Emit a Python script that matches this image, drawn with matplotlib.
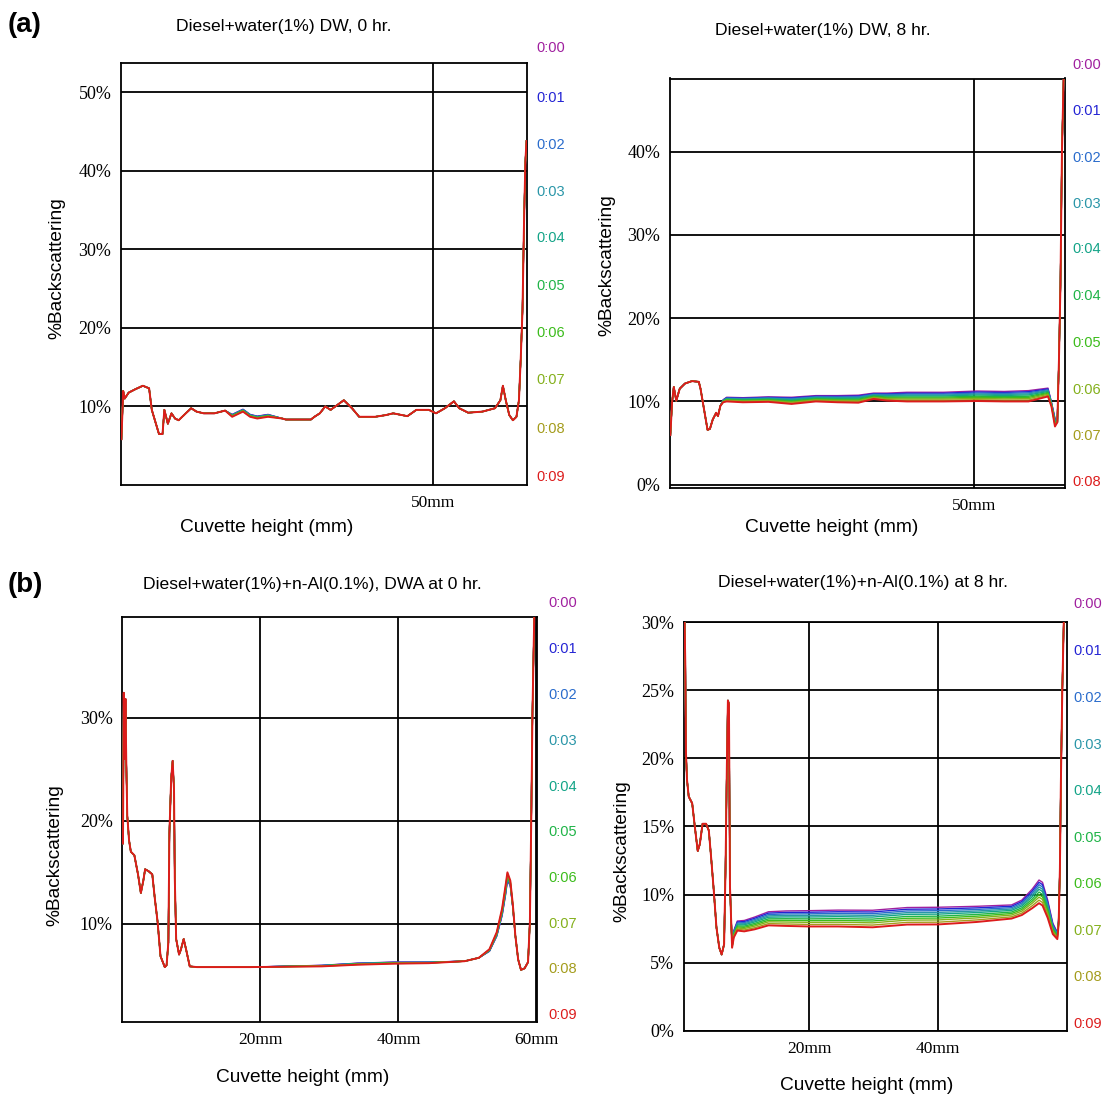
import numpy as np
import matplotlib
matplotlib.use("Agg")
import matplotlib.pyplot as plt
from matplotlib import font_manager

# ---- data (mm, %BS of the last scan) ----
# spread = how far the first scan (0:00) sits above the last one at each point
a0_x = [0.07, 0.35, 0.6, 1.22, 2.3, 3.5, 4.5, 4.93, 6.08, 6.65, 6.94, 7.5, 8.08, 8.65,
        9.23, 10.37, 11.23, 12.09, 13.24, 14.95, 16.67, 17.8, 19.53, 20.67, 21.82, 23.54,
        25.82, 26.4, 30.4, 30.97, 31.83, 32.7, 33.56, 34.7, 35.67, 36.98, 38.13, 40.7,
        42.42, 43.57, 45.85, 47.29, 49.29, 50.43, 51.86, 53.3, 54.15, 55.59, 57.87, 59.88,
        60.74, 61.14, 61.6, 62.16, 62.74, 63.31, 63.71, 64.0, 64.28, 64.52, 64.74, 64.92]
a0_y = [5.83, 11.97, 11.0, 11.75, 12.19, 12.63, 12.3, 9.56, 6.49, 6.49, 9.56, 7.8, 9.12, 8.46,
        8.24, 9.12, 9.77, 9.34, 9.12, 9.12, 9.47, 8.68, 9.34, 8.68, 8.46, 8.68,
        8.46, 8.33, 8.33, 8.68, 9.12, 10.0, 9.56, 10.22, 10.79, 9.77, 8.68, 8.68,
        8.9, 9.12, 8.76, 9.56, 9.56, 9.12, 9.77, 10.65, 9.77, 9.2, 9.34, 9.77,
        10.79, 12.63, 10.79, 8.9, 8.24, 8.68, 10.79, 16.14, 22.28, 33.25, 41.14, 43.77]
a0_spread = [0.0] * 21 + [0.3, 0.3, 0.3, 0.3, 0.3] + [0.0] * 36

a8_x = [0.06, 0.34, 0.62, 1.03, 1.6, 2.46, 3.6, 4.74, 5.03, 5.6, 6.18, 6.57, 7.03, 7.6,
        7.89, 8.29, 8.75, 9.32, 12.0, 16.2, 20.0, 24.0, 27.6, 31.0, 33.5, 35.7, 39.0,
        45.0, 50.5, 55.0, 59.0, 62.2, 62.77, 63.35, 63.74, 64.0, 64.25, 64.5, 64.77]
a8_y = [5.96, 9.88, 11.74, 10.08, 11.53, 12.15, 12.44, 12.36, 11.5, 9.05, 6.58, 6.7, 7.82, 8.64,
        8.23, 9.47, 9.9, 10.0, 9.9, 9.95, 9.7, 10.0, 9.9, 9.85, 10.3, 10.1, 10.0,
        10.0, 10.05, 10.0, 10.0, 10.6, 9.4, 6.99, 7.5, 14.83, 23.92, 40.02, 48.7]
a8_spread = [0.0] * 16 + [0.3, 0.5, 0.55, 0.6, 0.8, 0.7, 0.8, 0.9, 0.7, 0.9, 1.1,
                          1.1, 1.2, 1.2, 1.3, 1.0, 0.5, 1.0, 0.0, 0.0, 0.0, 0.0, 0.0]

b0_x = [0.07, 0.18, 0.3, 0.43, 0.55, 0.69, 0.95, 1.21, 1.72, 2.25, 2.66, 3.02, 3.28, 3.8,
        4.32, 4.68, 5.09, 5.51, 6.13, 6.39, 6.65, 6.8, 7.06, 7.27, 7.47, 7.58, 7.78, 8.2,
        8.46, 8.87, 9.23, 9.75, 10.79, 18.55, 28.9, 34.08, 39.26, 44.43, 49.6, 51.67, 53.2,
        54.26, 55.04, 55.56, 55.81, 56.23, 56.6, 56.96, 57.37, 57.78, 58.3, 58.8, 59.07,
        59.28, 59.44, 59.7]
b0_y = [17.8, 32.4, 26.0, 31.8, 25.5, 20.5, 18.1, 17.0, 16.65, 14.8, 13.0, 14.2, 15.3, 15.1,
        14.8, 12.5, 10.2, 6.88, 5.82, 6.0, 8.2, 18.8, 24.1, 25.8, 23.0, 14.5, 8.54, 7.04,
        7.5, 8.54, 7.5, 5.89, 5.82, 5.82, 5.89, 6.05, 6.15, 6.2, 6.39, 6.72, 7.55,
        9.2, 11.5, 13.8, 15.0, 14.2, 11.85, 8.87, 6.55, 5.55, 5.7, 6.3, 10.2,
        20.8, 30.4, 39.7]
b0_spread = [0.0] * 34 + [0.1, 0.15, 0.15, 0.1, 0.0, 0.0, -0.2,
                          -0.4, -0.7, -0.9, -0.8, -0.5, -0.3, 0.0, 0.0, 0.0, 0.0, 0.0, 0.0,
                          0.0, 0.0, 0.0]

b8_x = [0.69, 0.8, 0.9, 1.06, 1.33, 1.87, 2.3, 2.73, 3.05, 3.48, 4.02, 4.45, 4.82, 5.2,
        5.63, 6.07, 6.44, 6.82, 7.04, 7.25, 7.41, 7.57, 7.73, 8.06, 8.32, 8.87, 9.94, 11.55,
        13.7, 16.4, 20.0, 24.5, 29.85, 35.2, 40.0, 46.0, 51.4, 53.0, 54.6, 55.66, 56.2,
        57.0, 57.8, 58.5, 58.7, 58.9, 59.05, 59.27, 59.5]
b8_y = [30.05, 27.0, 20.5, 18.45, 17.2, 16.7, 14.9, 13.2, 13.7, 15.2, 15.2, 14.7, 12.65, 10.4,
        7.6, 6.1, 5.6, 6.35, 11.9, 19.5, 24.25, 24.0, 10.6, 6.1, 6.85, 7.36, 7.3, 7.45,
        7.74, 7.7, 7.66, 7.66, 7.6, 7.8, 7.81, 7.99, 8.24, 8.5, 9.0, 9.37, 9.2,
        8.3, 7.1, 6.73, 7.8, 11.9, 18.2, 25.0, 30.05]
b8_spread = [0.0] * 23 + [0.2, 0.5, 0.7, 0.8, 0.9, 1.0, 1.1, 1.16, 1.2, 1.25, 1.25, 1.26,
                          1.15, 1.0, 1.1, 1.4, 1.7, 1.7, 1.3, 0.8, 0.5, 0.3, 0.0, 0.0,
                          0.0, 0.0]

# fraction of the spread for each scan, 0:00 (top) ... 0:09 (bottom)
scan_frac = [1.0, 0.9, 0.8, 0.7, 0.6, 0.48, 0.37, 0.26, 0.13, 0.0]
scan_colors = ['#a0209f', '#2424d4', '#2a6ccc', '#2a96a8', '#14a488',
               '#20b448', '#3cbc1c', '#84b01c', '#a49c1c', '#dc1c1c']
labels_9 = ['0:00', '0:01', '0:02', '0:03', '0:04', '0:05', '0:06', '0:07', '0:08', '0:09']
labels_8 = ['0:00', '0:01', '0:02', '0:03', '0:04', '0:04', '0:05', '0:06', '0:07', '0:08']

# ---- fonts ----
names = {f.name for f in font_manager.fontManager.ttflist}
if 'Liberation Sans Narrow' in names:
    sans = ['Liberation Sans Narrow', 'DejaVu Sans']
    fs_title, fs_lab, fs_time = 15, 16, 13
else:
    sans = ['Liberation Sans', 'DejaVu Sans']
    fs_title, fs_lab, fs_time = 12.6, 13.8, 10.5
serif = ['Liberation Serif', 'DejaVu Serif']

W, H = 1104, 1096
fig = plt.figure(figsize=(W / 100, H / 100), dpi=100)


def fx(px):
    return px / W


def fy(py):
    return 1 - py / H


def panel(box, xs, ys, spread, xlim, ylim, xticks, yticks, title, tpos,
          ylab_pos, xlab_pos, times, time_x, time_y):
    x0, y0, x1, y1 = box
    ax = fig.add_axes([fx(x0), fy(y1), (x1 - x0) / W, (y1 - y0) / H])
    xs = np.array(xs)
    ys = np.array(ys)
    sp = np.array(spread)
    for frac, c in zip(scan_frac, scan_colors):
        lw = 1.4 if frac == 0.0 else 1.0
        ax.plot(xs, ys + frac * sp, color=c, lw=lw, zorder=3)
    ax.set_xlim(*xlim)
    ax.set_ylim(*ylim)
    ax.set_xticks(xticks)
    ax.set_xticklabels([f'{v}mm' for v in xticks], family=serif, fontsize=12.5)
    ax.set_yticks(yticks)
    ax.set_yticklabels([f'{v}%' for v in yticks], family=serif, fontsize=13)
    ax.tick_params(length=0, pad=7)
    ax.grid(True, color='black', lw=1.3, zorder=1)
    for s in ax.spines.values():
        s.set_linewidth(1.3)
        s.set_color('black')
    fig.text(fx(tpos[0]), fy(tpos[1]), title, family=sans, fontsize=fs_title,
             ha='center', va='center')
    fig.text(fx(ylab_pos[0]), fy(ylab_pos[1]), '%Backscattering', family=sans,
             fontsize=fs_lab, rotation=90, ha='center', va='center')
    fig.text(fx(xlab_pos[0]), fy(xlab_pos[1]), 'Cuvette height (mm)', family=sans,
             fontsize=fs_lab, ha='center', va='center')
    for lab, c, ty in zip(times, scan_colors, time_y):
        fig.text(fx(time_x), fy(ty), lab, color=c, family=sans, fontsize=fs_time,
                 ha='left', va='center')
    return ax


panel((121, 63, 527, 485), a0_x, a0_y, a0_spread, (0, 65), (0, 53.7), [50],
      [10, 20, 30, 40, 50], 'Diesel+water(1%) DW, 0 hr.', (284, 26),
      (57, 268), (267, 527), labels_9, 536,
      [48, 97.5, 144.6, 192, 238, 286.5, 333, 380.5, 428.7, 477])

panel((670, 78.5, 1065, 488), a8_x, a8_y, a8_spread, (0, 65), (-0.4, 48.8), [50],
      [0, 10, 20, 30, 40], 'Diesel+water(1%) DW, 8 hr.', (823, 31),
      (607, 265), (832, 527), labels_8, 1072,
      [65.4, 111, 157.7, 204, 248.6, 295.5, 343.3, 389.8, 435.6, 482])

panel((122.5, 617.4, 537, 1022), b0_x, b0_y, b0_spread, (0, 60.1), (0.5, 39.7),
      [20, 40, 60], [10, 20, 30], 'Diesel+water(1%)+n-Al(0.1%), DWA at 0 hr.',
      (312, 584), (55, 855), (303, 1078), labels_9, 548,
      [603, 649, 695, 741, 787, 832, 878, 924, 969, 1015])

panel((684, 621.5, 1067, 1030.8), b8_x, b8_y, b8_spread, (0.6, 60.0), (0.0, 30.05),
      [20, 40], [0, 5, 10, 15, 20, 25, 30], 'Diesel+water(1%)+n-Al(0.1%) at 8 hr.',
      (863, 582), (622, 851), (867, 1086), labels_9, 1073,
      [604.4, 650.6, 698.5, 744.6, 790.8, 837.6, 884.1, 931, 977, 1024])

fig.text(fx(8), fy(25), '(a)', fontsize=20, fontweight='bold',
         family=['Liberation Sans', 'DejaVu Sans'], ha='left', va='center')
fig.text(fx(8), fy(585), '(b)', fontsize=20, fontweight='bold',
         family=['Liberation Sans', 'DejaVu Sans'], ha='left', va='center')

fig.savefig('out.png', dpi=100)
